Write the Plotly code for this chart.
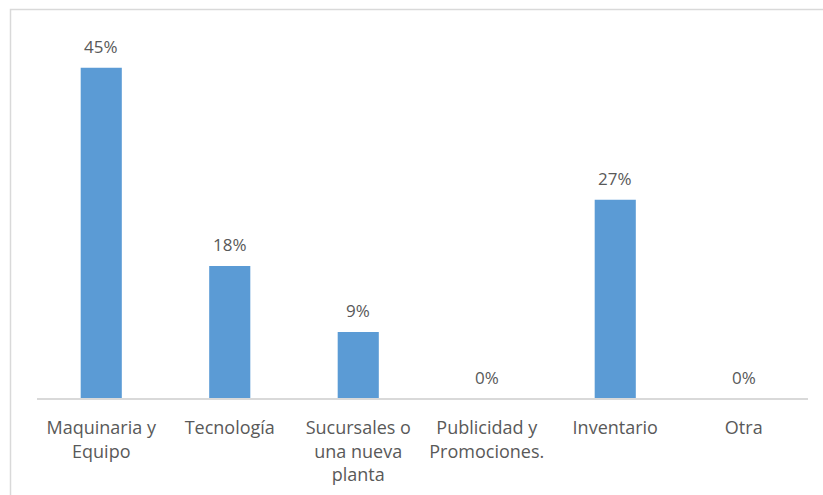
import plotly.graph_objects as go

# Destino de la inversión (porcentaje de respuestas)
categories = ["Maquinaria y<br>Equipo", "Tecnología", "Sucursales o<br>una nueva<br>planta",
              "Publicidad y<br>Promociones.", "Inventario", "Otra"]
values = [45, 18, 9, 0, 27, 0]
value_labels = ["45%", "18%", "9%", "0%", "27%", "0%"]

BAR_COLOR = "#5B9BD5"
TEXT_COLOR = "#595959"
LINE_COLOR = "#D9D9D9"
FONT = "'Open Sans', sans-serif"

W, H = 823, 495
ML, MR, MT, MB = 37, 15, 31, 97
plot_w = W - ML - MR
plot_h = H - MT - MB

fig = go.Figure(go.Bar(
    x=list(range(len(categories))),
    y=values,
    marker=dict(color=BAR_COLOR, line=dict(width=0)),
    width=0.32,
    hoverinfo="skip",
))

# Etiquetas de valor sobre cada barra
for i, (v, lab) in enumerate(zip(values, value_labels)):
    fig.add_annotation(x=i, y=v, xref="x", yref="y", text=lab, showarrow=False,
                       yshift=21, font=dict(family=FONT, size=17, color=TEXT_COLOR))

# Marco del área del gráfico
def px_to_paper_x(px):
    return (px - ML) / plot_w

def px_to_paper_y(py):
    return (H - MB - py) / plot_h

fig.add_shape(type="rect", xref="paper", yref="paper",
              x0=px_to_paper_x(10.5), x1=px_to_paper_x(840),
              y0=px_to_paper_y(520), y1=px_to_paper_y(9.5),
              line=dict(color=LINE_COLOR, width=1.5), fillcolor="rgba(0,0,0,0)", layer="below")

fig.update_layout(
    width=W, height=H,
    margin=dict(l=ML, r=MR, t=MT, b=MB, pad=0, autoexpand=False),
    paper_bgcolor="white", plot_bgcolor="white",
    showlegend=False,
    font=dict(family=FONT, size=18, color=TEXT_COLOR),
    xaxis=dict(
        tickmode="array", tickvals=list(range(len(categories))), ticktext=categories,
        range=[-0.5, len(categories) - 0.5],
        showline=True, linecolor=LINE_COLOR, linewidth=1.5,
        showgrid=False, zeroline=False, ticks="", ticklen=0,
        ticklabelstandoff=13, automargin=False,
        tickfont=dict(family=FONT, size=18, color=TEXT_COLOR), tickangle=0,
        fixedrange=True,
    ),
    yaxis=dict(range=[0, 50], visible=False, fixedrange=True, automargin=False),
)

fig.write_html("out.html", config={"displayModeBar": False})
